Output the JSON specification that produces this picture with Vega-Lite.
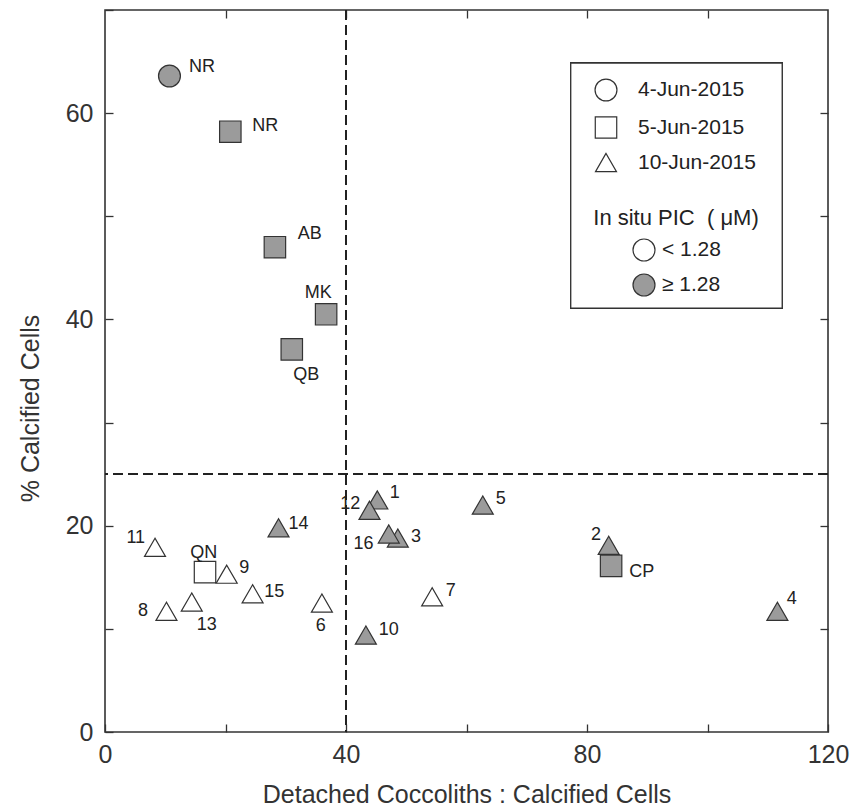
{
  "$schema": "https://vega.github.io/schema/vega-lite/v6.json",
  "autosize": "none",
  "padding": {"left": 105, "top": 10, "right": 23, "bottom": 77},
  "width": 723,
  "height": 722,
  "data": {
    "values": [
      {"id": "NR", "date": "4-Jun-2015", "pic": "≥ 1.28", "x": 10.7, "y": 63.6, "lx": 16.1, "ly": 64.5},
      {"id": "NR", "date": "5-Jun-2015", "pic": "≥ 1.28", "x": 20.8, "y": 58.2, "lx": 26.6, "ly": 58.8},
      {"id": "AB", "date": "5-Jun-2015", "pic": "≥ 1.28", "x": 28.2, "y": 47.0, "lx": 34.0, "ly": 48.3},
      {"id": "MK", "date": "5-Jun-2015", "pic": "≥ 1.28", "x": 36.7, "y": 40.5, "lx": 35.4, "ly": 42.6},
      {"id": "QB", "date": "5-Jun-2015", "pic": "≥ 1.28", "x": 31.0, "y": 37.1, "lx": 33.4, "ly": 34.6},
      {"id": "QN", "date": "5-Jun-2015", "pic": "< 1.28", "x": 16.6, "y": 15.5, "lx": 16.4, "ly": 17.4},
      {"id": "CP", "date": "5-Jun-2015", "pic": "≥ 1.28", "x": 84.0, "y": 16.1, "lx": 89.1, "ly": 15.5},
      {"id": "1", "date": "10-Jun-2015", "pic": "≥ 1.28", "x": 45.2, "y": 22.5, "lx": 48.1, "ly": 23.2},
      {"id": "2", "date": "10-Jun-2015", "pic": "≥ 1.28", "x": 83.6, "y": 18.1, "lx": 81.5, "ly": 19.1},
      {"id": "3", "date": "10-Jun-2015", "pic": "≥ 1.28", "x": 48.6, "y": 18.8, "lx": 51.6, "ly": 18.9},
      {"id": "4", "date": "10-Jun-2015", "pic": "≥ 1.28", "x": 111.6, "y": 11.7, "lx": 114.0, "ly": 12.9},
      {"id": "5", "date": "10-Jun-2015", "pic": "≥ 1.28", "x": 62.7, "y": 22.0, "lx": 65.7, "ly": 22.6},
      {"id": "6", "date": "10-Jun-2015", "pic": "< 1.28", "x": 36.0, "y": 12.5, "lx": 35.8, "ly": 10.3},
      {"id": "7", "date": "10-Jun-2015", "pic": "< 1.28", "x": 54.3, "y": 13.1, "lx": 57.4, "ly": 13.7},
      {"id": "8", "date": "10-Jun-2015", "pic": "< 1.28", "x": 10.2, "y": 11.7, "lx": 6.3, "ly": 11.7},
      {"id": "9", "date": "10-Jun-2015", "pic": "< 1.28", "x": 20.2, "y": 15.3, "lx": 23.1, "ly": 15.9},
      {"id": "10", "date": "10-Jun-2015", "pic": "≥ 1.28", "x": 43.3, "y": 9.4, "lx": 47.1, "ly": 9.9},
      {"id": "11", "date": "10-Jun-2015", "pic": "< 1.28", "x": 8.3, "y": 17.9, "lx": 5.1, "ly": 18.8},
      {"id": "12", "date": "10-Jun-2015", "pic": "≥ 1.28", "x": 43.9, "y": 21.5, "lx": 40.7, "ly": 22.1},
      {"id": "13", "date": "10-Jun-2015", "pic": "< 1.28", "x": 14.4, "y": 12.6, "lx": 16.9, "ly": 10.4},
      {"id": "14", "date": "10-Jun-2015", "pic": "≥ 1.28", "x": 28.8, "y": 19.8, "lx": 32.1, "ly": 20.2},
      {"id": "15", "date": "10-Jun-2015", "pic": "< 1.28", "x": 24.5, "y": 13.4, "lx": 28.1, "ly": 13.6},
      {"id": "16", "date": "10-Jun-2015", "pic": "≥ 1.28", "x": 47.1, "y": 19.2, "lx": 42.9, "ly": 18.2}
    ]
  },
  "layer": [
    {
      "mark": {"type": "rule", "strokeDash": [10, 5], "strokeWidth": 1.3, "color": "#222"},
      "encoding": {
        "x": {"datum": 40, "type": "quantitative", "scale": {"domain": [0, 120], "nice": false, "zero": false},
          "axis": {"orient": "top", "values": [20, 40, 60, 80, 100], "labels": false, "title": null}}
      }
    },
    {
      "mark": {"type": "rule", "strokeDash": [10, 5], "strokeWidth": 1.3, "color": "#222"},
      "encoding": {
        "y": {"datum": 25, "type": "quantitative", "scale": {"domain": [0, 70], "nice": false, "zero": false},
          "axis": {"orient": "right", "values": [10, 20, 30, 40, 50, 60], "labels": false, "title": null}}
      }
    },
    {
      "mark": {"type": "rect", "fill": "white", "stroke": "#333", "strokeWidth": 1.3},
      "encoding": {
        "x": {"datum": 77.3, "type": "quantitative", "axis": null},
        "x2": {"datum": 112.4},
        "y": {"datum": 64.85, "type": "quantitative", "axis": null},
        "y2": {"datum": 41.1}
      }
    },
    {
      "mark": {"type": "point", "fill": "white", "stroke": "#333", "strokeWidth": 1.2, "opacity": 1, "fillOpacity": 1},
      "encoding": {
        "x": {"field": "x", "type": "quantitative", "scale": {"domain": [0, 120], "nice": false, "zero": false},
          "axis": {"orient": "bottom", "values": [0, 20, 40, 60, 80, 100, 120], "labelExpr": "datum.value % 40 === 0 ? datum.label : ''", "labelFlush": false, "labelPadding": 18, "title": "Detached Coccoliths : Calcified Cells", "titlePadding": 15}},
        "y": {"field": "y", "type": "quantitative", "scale": {"domain": [0, 70], "nice": false, "zero": false},
          "axis": {"orient": "left", "values": [0, 10, 20, 30, 40, 50, 60, 70], "labelExpr": "datum.value % 20 === 0 ? datum.label : ''", "labelFlush": false, "labelPadding": 20, "title": "% Calcified Cells", "titlePadding": 22, "titleY": 398}},
        "shape": {"field": "date", "type": "nominal",
          "scale": {"domain": ["4-Jun-2015", "5-Jun-2015", "10-Jun-2015"], "range": ["circle", "square", "triangle-up"]},
          "legend": {"orient": "none", "legendX": 489, "legendY": 68, "title": null, "symbolFillColor": "white", "symbolStrokeColor": "#333", "symbolStrokeWidth": 1.2, "labelFontSize": 21, "labelOffset": 20, "rowPadding": 10, "padding": 0,
            "encode": {"symbols": {"update": {"fill": {"value": "white"}, "stroke": {"value": "#333"}}}}}},
        "size": {"field": "date", "type": "nominal",
          "scale": {"domain": ["4-Jun-2015", "5-Jun-2015", "10-Jun-2015"], "range": [480, 440, 620]},
          "legend": {"orient": "none", "legendX": 489, "legendY": 68, "title": null, "symbolFillColor": "white", "symbolStrokeColor": "#333", "symbolStrokeWidth": 1.2, "labelFontSize": 21, "labelOffset": 20, "rowPadding": 10, "padding": 0,
            "encode": {"symbols": {"update": {"fill": {"value": "white"}, "stroke": {"value": "#333"}}}}}},
        "fill": {"field": "pic", "type": "nominal",
          "scale": {"domain": ["< 1.28", "≥ 1.28"], "range": ["white", "#9b9b9b"]},
          "legend": {"orient": "none", "legendX": 488, "legendY": 198, "title": "In situ PIC\u00a0 (\u00a0μM)", "titleFontSize": 22, "titleFontWeight": "normal", "titleAnchor": "middle", "titleAlign": "center", "titlePadding": 8, "symbolType": "circle", "symbolSize": 484, "symbolStrokeColor": "#333", "symbolStrokeWidth": 1.2, "symbolOffset": 0, "labelFontSize": 21, "labelOffset": 6, "rowPadding": 7, "padding": 0}}
      }
    },
    {
      "mark": {"type": "text", "fontSize": 18, "color": "#222", "align": "center", "baseline": "middle"},
      "encoding": {
        "x": {"field": "lx", "type": "quantitative", "axis": null},
        "y": {"field": "ly", "type": "quantitative", "axis": null},
        "text": {"field": "id"}
      }
    }
  ],
  "resolve": {"axis": {"x": "independent", "y": "independent"}},
  "config": {
    "font": "Liberation Sans",
    "view": {"stroke": "#333", "strokeWidth": 1.6},
    "axis": {"domain": false, "grid": false, "tickColor": "#333", "tickSize": -8, "tickWidth": 1.3, "labelFontSize": 25, "labelColor": "#333", "titleFontSize": 25, "titleFontWeight": "normal", "titleColor": "#333"},
    "legend": {"labelColor": "#222", "titleColor": "#222"}
  }
}
